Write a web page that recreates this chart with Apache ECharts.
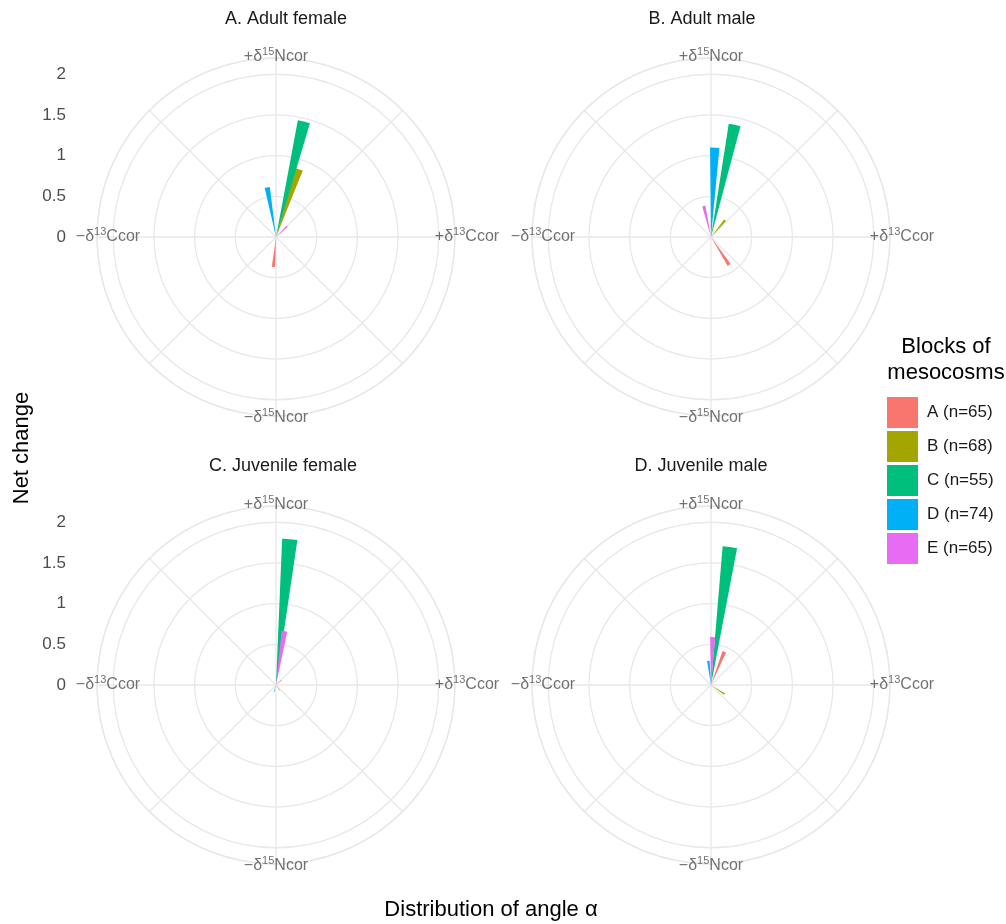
<!DOCTYPE html>
<html><head><meta charset="utf-8">
<script src="https://cdn.jsdelivr.net/npm/echarts@6/dist/echarts.min.js"></script>
<style>html,body{margin:0;padding:0;background:#fff}#c{width:1006px;height:924px}</style>
</head><body><div id="c"></div>
<script>
// ---- data ----
const blocks = ['A (n=65)', 'B (n=68)', 'C (n=55)', 'D (n=74)', 'E (n=65)'];
const blockColors = ['#F8766D', '#A3A500', '#00BF7D', '#00B0F6', '#E76BF3'];
const panelTitles = ['A. Adult female', 'B. Adult male', 'C. Juvenile female', 'D. Juvenile male'];
// mean angle α (degrees, clockwise from +δ15N) and net change, per block A..E
const angleAdultFemale = [185, 19, 13.6, 350, 46];
const netAdultFemale   = [0.37, 0.88, 1.46, 0.62, 0.19];
const angleAdultMale   = [147, 40, 11.9, 2.4, 347];
const netAdultMale     = [0.41, 0.27, 1.41, 1.10, 0.39];
const angleJuvFemale   = [49, 145, 5.4, 196, 8.9];
const netJuvFemale     = [0.09, 0.08, 1.80, 0.09, 0.67];
const angleJuvMale     = [21.8, 124, 7.8, 353.7, 2];
const netJuvMale       = [0.44, 0.20, 1.71, 0.30, 0.59];
const radialTicks = [0, 0.5, 1, 1.5, 2];
const cardinalAngles = [0, 90, 180, 270];
const cardinalLabels = [['+', '15', 'Ncor'], ['+', '13', 'Ccor'], ['\u2212', '15', 'Ncor'], ['\u2212', '13', 'Ccor']];
const yTitle = 'Net change';
const xTitle = 'Distribution of angle \u03b1';
const legendTitle = ['Blocks of', 'mesocosms'];

// ---- layout / style ----
const FONT = "'Liberation Sans', Arial, sans-serif";
const GRID = '#e8e8e8';
const R = 179;
const RMAX = 2.2;
const HALF_W = 3; // half wedge width in degrees
const centers = [[276, 237], [711, 237], [276, 685], [711, 685]];
const titlePos = [[286, 19], [702, 19], [283, 466], [701, 466]];
const labelOffsets = [[0, -1], [12, 0], [0, 2], [11, 0]];
const panels = [
  { angle: angleAdultFemale, net: netAdultFemale },
  { angle: angleAdultMale, net: netAdultMale },
  { angle: angleJuvFemale, net: netJuvFemale },
  { angle: angleJuvMale, net: netJuvMale }
];

function wedgeRender(params, api) {
  const cs = params.coordSys;
  const len = api.value(0), ang = api.value(1);
  const p0 = api.coord([len, ang - HALF_W]);
  const p1 = api.coord([len, ang + HALF_W]);
  const r = Math.hypot(p0[0] - cs.cx, p0[1] - cs.cy);
  let a0 = Math.atan2(p0[1] - cs.cy, p0[0] - cs.cx);
  let a1 = Math.atan2(p1[1] - cs.cy, p1[0] - cs.cx);
  if (a1 < a0) a1 += 2 * Math.PI;
  return {
    type: 'sector',
    shape: { cx: cs.cx, cy: cs.cy, r0: 0, r: r, startAngle: a0, endAngle: a1, clockwise: true },
    style: { fill: api.visual('color') }
  };
}

const polar = [], angleAxis = [], radiusAxis = [], series = [];
centers.forEach((c, i) => {
  polar.push({ center: c, radius: R });
  angleAxis.push({
    polarIndex: i, type: 'value', min: 0, max: 360, interval: 45, startAngle: 90, clockwise: true,
    axisLine: { show: true, lineStyle: { color: GRID, width: 1.3 } },
    axisTick: { show: false }, axisLabel: { show: false },
    splitLine: { show: true, lineStyle: { color: GRID, width: 1.3 } }
  });
  radiusAxis.push({
    polarIndex: i, type: 'value', min: 0, max: RMAX, interval: 0.5,
    axisLine: { show: false }, axisTick: { show: false }, axisLabel: { show: false },
    splitLine: { show: true, lineStyle: { color: GRID, width: 1.3 } }
  });
  blocks.forEach((b, bi) => {
    series.push({
      type: 'custom', name: b, coordinateSystem: 'polar', polarIndex: i,
      itemStyle: { color: blockColors[bi] }, renderItem: wedgeRender, silent: true, z: 3 + bi,
      data: [[panels[i].net[bi], panels[i].angle[bi]]]
    });
  });
  series.push({
    type: 'scatter', name: 'cardinal', coordinateSystem: 'polar', polarIndex: i,
    symbolSize: 0, silent: true, z: 10,
    data: cardinalAngles.map((a, k) => ({ value: [RMAX, a], label: { offset: labelOffsets[k] } })),
    label: {
      show: true, position: 'inside',
      formatter: p => { const l = cardinalLabels[p.dataIndex]; return '{t|' + l[0] + '\u03b4}{s|' + l[1] + '}{t|' + l[2] + '}'; },
      rich: {
        t: { fontFamily: FONT, fontSize: 16, color: '#4d4d4d', lineHeight: 22 },
        s: { fontFamily: FONT, fontSize: 11, color: '#4d4d4d', lineHeight: 10, verticalAlign: 'top' }
      }
    }
  });
});

const grids = [], xAxes = [], yAxes = [];
[0, 2].forEach((pi, gi) => {
  const c = centers[pi];
  const h = R * radialTicks[radialTicks.length - 1] / RMAX;
  grids.push({ left: 74, width: 2, top: c[1] - h, height: h });
  xAxes.push({ gridIndex: gi, show: false, type: 'value' });
  yAxes.push({
    gridIndex: gi, type: 'value', min: radialTicks[0], max: radialTicks[radialTicks.length - 1], interval: 0.5,
    axisLine: { show: false }, axisTick: { show: false }, splitLine: { show: false },
    axisLabel: { margin: 8, color: '#4d4d4d', fontSize: 17, fontFamily: FONT }
  });
});

const graphic = [];
panelTitles.forEach((t, i) => graphic.push({
  type: 'text', x: titlePos[i][0], y: titlePos[i][1], silent: true,
  style: { text: t, fontFamily: FONT, fontSize: 18, fill: '#1a1a1a', align: 'center', verticalAlign: 'middle' }
}));
graphic.push({ type: 'text', x: 22, y: 448, rotation: Math.PI / 2, silent: true,
  style: { text: yTitle, fontFamily: FONT, fontSize: 22, fill: '#000', align: 'center', verticalAlign: 'middle' } });
graphic.push({ type: 'text', x: 491, y: 910, silent: true,
  style: { text: xTitle, fontFamily: FONT, fontSize: 22, fill: '#000', align: 'center', verticalAlign: 'middle' } });
legendTitle.forEach((t, i) => graphic.push({ type: 'text', x: 946, y: 347 + i * 26, silent: true,
  style: { text: t, fontFamily: FONT, fontSize: 22, fill: '#000', align: 'center', verticalAlign: 'middle' } }));

const chart = echarts.init(document.getElementById('c'), null, { renderer: 'canvas' });
chart.setOption({
  animation: false,
  backgroundColor: '#fff',
  polar, angleAxis, radiusAxis,
  grid: grids, xAxis: xAxes, yAxis: yAxes,
  legend: {
    data: blocks, orient: 'vertical', left: 882, top: 392,
    itemWidth: 31, itemHeight: 31, itemGap: 3, icon: 'rect',
    selectedMode: false,
    textStyle: { fontFamily: FONT, fontSize: 17, color: '#1a1a1a', padding: [0, 0, 0, 4] }
  },
  graphic,
  series
});
</script></body></html>
